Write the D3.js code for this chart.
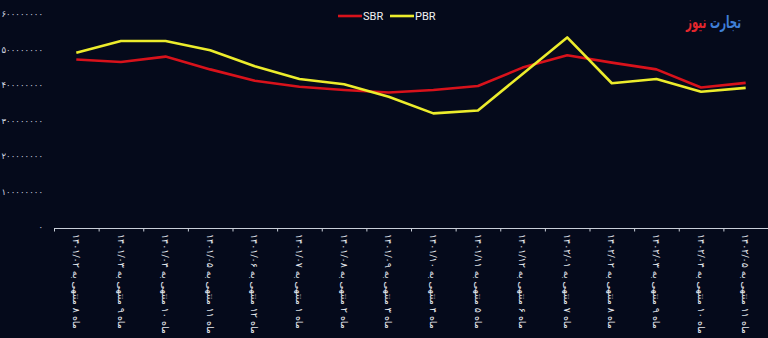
<!DOCTYPE html>
<html>
<head>
<meta charset="utf-8">
<script src="https://cdn.jsdelivr.net/npm/d3@7/dist/d3.min.js"></script>
<style>
  html, body { margin: 0; padding: 0; background: #050a1b; }
  svg { display: block; }
</style>
</head>
<body>
<svg id="chart" width="768" height="338"></svg>
<script>
// Monthly figures for SBR and PBR
const categories = [
  "ماه ۸ منتهی به ۱۴۰۱/۰۲", "ماه ۹ منتهی به ۱۴۰۱/۰۳", "ماه ۱۰ منتهی به ۱۴۰۱/۰۴",
  "ماه ۱۱ منتهی به ۱۴۰۱/۰۵", "ماه ۱۲ منتهی به ۱۴۰۱/۰۶", "ماه ۱ منتهی به ۱۴۰۱/۰۷",
  "ماه ۲ منتهی به ۱۴۰۱/۰۸", "ماه ۳ منتهی به ۱۴۰۱/۰۹", "ماه ۴ منتهی به ۱۴۰۱/۱۰",
  "ماه ۵ منتهی به ۱۴۰۱/۱۱", "ماه ۶ منتهی به ۱۴۰۱/۱۲", "ماه ۷ منتهی به ۱۴۰۲/۰۱",
  "ماه ۸ منتهی به ۱۴۰۲/۰۲", "ماه ۹ منتهی به ۱۴۰۲/۰۳", "ماه ۱۰ منتهی به ۱۴۰۲/۰۴",
  "ماه ۱۱ منتهی به ۱۴۰۲/۰۵"
];
const sbr = [472e6, 465e6, 480e6, 444e6, 412e6, 395e6, 386e6, 379e6,
             386e6, 397e6, 449e6, 484e6, 463e6, 444e6, 393e6, 406e6];
const pbr = [491e6, 524e6, 524e6, 498e6, 453e6, 417e6, 402e6, 367e6,
             320e6, 328e6, 431e6, 534e6, 405e6, 417e6, 381e6, 392e6];
const yTicks = [0, 100e6, 200e6, 300e6, 400e6, 500e6, 600e6];
const seriesNames = ["SBR", "PBR"];

const colors = { SBR: "#d8121b", PBR: "#ecec2c" };
const toFa = s => String(s).replace(/\d/g, d => "۰۱۲۳۴۵۶۷۸۹"[d]);

const svg = d3.select("#chart");
const W = 768, H = 338;
const margin = { left: 54, right: 0, top: 14, bottom: 111 };

const x = d3.scaleBand().domain(categories).range([margin.left, W - margin.right]);
const y = d3.scaleLinear().domain([0, 600e6]).range([H - margin.bottom, margin.top]);

// y axis: labels only
const yAxis = svg.append("g")
  .attr("transform", `translate(${margin.left},0)`)
  .call(d3.axisLeft(y).tickValues(yTicks).tickSize(0).tickPadding(11).tickFormat(d => toFa(d)));
yAxis.select(".domain").remove();
yAxis.selectAll("text")
  .attr("fill", "#d4d8e2")
  .style("font-family", "DejaVu Sans, sans-serif")
  .style("font-size", "8.6px");

// x axis
const xAxis = svg.append("g")
  .attr("transform", `translate(0,${H - margin.bottom + 1})`)
  .call(d3.axisBottom(x).tickSize(0).tickFormat(""));
xAxis.select(".domain").attr("stroke", "#c9ced8").attr("stroke-width", 1);
// boundary ticks between bands
const bounds = categories.map(c => x(c)).concat([W - margin.right]);
xAxis.selectAll(".bound").data(bounds).enter().append("line")
  .attr("class", "bound")
  .attr("x1", d => d + 0.5).attr("x2", d => d + 0.5)
  .attr("y1", 0).attr("y2", 3.5)
  .attr("stroke", "#c9ced8");

// rotated category labels
svg.append("g").selectAll("text").data(categories).enter().append("text")
  .attr("transform", d => `translate(${x(d) + x.bandwidth() / 2},${H - margin.bottom + 7}) rotate(90)`)
  .attr("dy", "0.35em")
  .attr("text-anchor", "start")
  .attr("fill", "#e6e9ef")
  .style("font-family", "DejaVu Sans, sans-serif")
  .style("font-size", "9.5px")
  .text(d => d);

// lines
const line = d3.line()
  .x((d, i) => x(categories[i]) + x.bandwidth() / 2)
  .y(d => y(d));

const data = { SBR: sbr, PBR: pbr };
seriesNames.forEach(name => {
  svg.append("path")
    .datum(data[name])
    .attr("fill", "none")
    .attr("stroke", colors[name])
    .attr("stroke-width", 2.6)
    .attr("stroke-linejoin", "round")
    .attr("d", line);
});

// legend
const legend = svg.append("g").attr("transform", "translate(338,16)");
let lx = 0;
seriesNames.forEach(name => {
  legend.append("line")
    .attr("x1", lx).attr("x2", lx + 24).attr("y1", 0).attr("y2", 0)
    .attr("stroke", colors[name]).attr("stroke-width", 2.6);
  legend.append("text")
    .attr("x", lx + 25).attr("y", 0).attr("dy", "0.35em")
    .attr("fill", "#f2f2f2")
    .style("font-family", "Roboto, sans-serif")
    .style("font-size", "11px")
    .text(name);
  lx += 52;
});

// brand mark, condensed horizontally
const brand = svg.append("g")
  .attr("transform", "translate(741,28) scale(0.6,1)")
  .append("text")
  .attr("x", 0).attr("y", 0)
  .attr("text-anchor", "start")
  .attr("direction", "rtl")
  .style("font-family", "DejaVu Sans, sans-serif")
  .style("font-size", "17px")
  .style("font-weight", "bold");
brand.append("tspan").attr("fill", "#3f7fd8").text("تجارت ");
brand.append("tspan").attr("fill", "#e3262c").text("نیوز");
</script>
</body>
</html>
